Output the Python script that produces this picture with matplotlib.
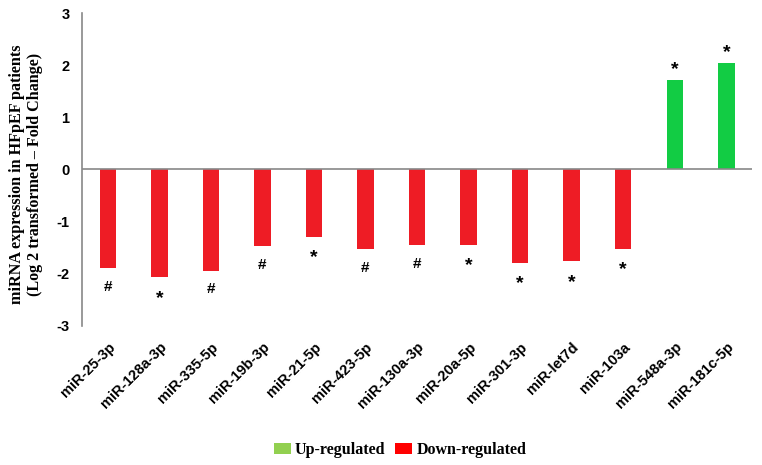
import matplotlib
matplotlib.use("Agg")
import matplotlib.pyplot as plt
from matplotlib.patches import Patch

categories = ["miR-25-3p", "miR-128a-3p", "miR-335-5p", "miR-19b-3p", "miR-21-5p",
              "miR-423-5p", "miR-130a-3p", "miR-20a-5p", "miR-301-3p", "miR-let7d",
              "miR-103a", "miR-548a-3p", "miR-181c-5p"]
values = [-1.89, -2.07, -1.94, -1.47, -1.29, -1.53, -1.45, -1.45, -1.79, -1.76, -1.52, 1.71, 2.05]
markers = ["#", "*", "#", "#", "*", "#", "#", "*", "*", "*", "*", "*", "*"]
yticks = [-3, -2, -1, 0, 1, 2, 3]

RED = "#EE1C25"
GREEN = "#12CC44"
LEG_RED = "#FF0000"
LEG_GREEN = "#92D050"

fig = plt.figure(figsize=(7.62, 4.65), dpi=100)
ax = fig.add_axes([0.1076, 0.299, 0.8794, 0.673])

x = list(range(len(categories)))
colors = [GREEN if v > 0 else RED for v in values]
ax.bar(x, values, width=0.32, color=colors, zorder=2)

for xi, v, m in zip(x, values, markers):
    if v < 0:
        off = -13.5 if m == "#" else -15
        ax.annotate(m, (xi, v), xytext=(0, off), textcoords="offset points",
                    ha="center", va="center", fontsize=11 if m == "#" else 14,
                    fontweight="bold", family="Liberation Sans")
    else:
        ax.annotate(m, (xi, v), xytext=(0, 7.5), textcoords="offset points",
                    ha="center", va="center", fontsize=14, fontweight="bold",
                    family="Liberation Sans")

ax.axhline(0, color="#888888", linewidth=1.2, zorder=3)
ax.set_xlim(-0.5, 12.5)
ax.set_ylim(-3, 3)
ax.set_yticks(yticks)
ax.set_yticklabels([str(t) for t in yticks], fontsize=10.5, fontweight="bold",
                   family="Liberation Sans")
ax.tick_params(axis="y", length=0, pad=9)
ax.tick_params(axis="x", length=0, pad=10)
ax.set_xticks(x)
ax.set_xticklabels(categories, rotation=45, ha="right", rotation_mode="anchor",
                   fontsize=10.5, fontweight="bold", family="Liberation Sans")
for s in ["top", "right", "bottom"]:
    ax.spines[s].set_visible(False)
ax.spines["left"].set_color("#888888")
ax.spines["left"].set_linewidth(1.2)

fig.text(26 / 762, 1 - 174 / 465,
         "miRNA expression in HFpEF patients\n(Log 2 transformed \u2013 Fold Change)",
         rotation=90, ha="center", va="center", multialignment="center",
         fontsize=11.6, fontweight="bold", family="Liberation Serif", linespacing=1.1)

handles = [Patch(facecolor=LEG_GREEN, label="Up-regulated"),
           Patch(facecolor=LEG_RED, label="Down-regulated")]
fig.legend(handles=handles, loc="center", bbox_to_anchor=(0.525, 0.032), ncol=2,
           frameon=False, handlelength=1.06, handleheight=0.63, handletextpad=0.25,
           columnspacing=0.63, prop={"family": "Liberation Serif", "weight": "bold", "size": 11.5})

fig.savefig("out.png", dpi=100)
